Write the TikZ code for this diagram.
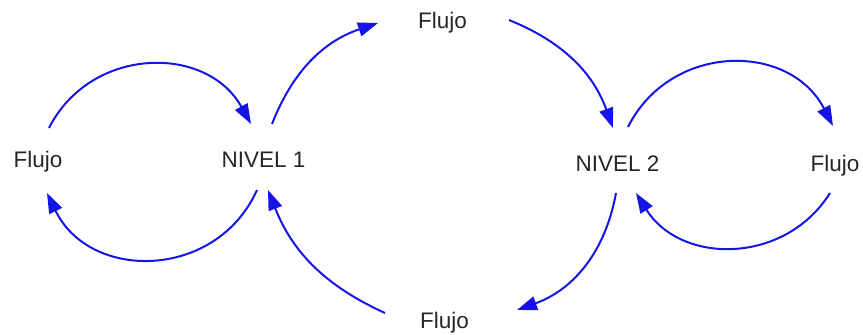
\documentclass[tikz,border=0pt]{standalone}
\usepackage{fontspec}
\setmainfont{Liberation Sans}
\usetikzlibrary{arrows.meta}
\definecolor{flowblue}{RGB}{20,20,230}

\begin{document}
\begin{tikzpicture}[x=1pt,y=1pt,
  varname/.style={anchor=base,inner sep=0pt,text=black!85,
    font=\fontsize{22.5}{27}\selectfont},
  flow/.style={draw=flowblue,line width=2pt,
    -{Triangle[length=20pt,width=14pt]}}]
  \useasboundingbox (0,0) rectangle (863,335);
  \node[varname] (f1) at (38,167) {Flujo};
  \node[varname] (n1) at (263.5,167) {NIVEL 1};
  \node[varname] (f2) at (442.5,306) {Flujo};
  \node[varname] (n2) at (617.5,163) {NIVEL 2};
  \node[varname] (f4) at (835,163) {Flujo};
  \node[varname] (f3) at (444.5,6) {Flujo};
  % outer loops
  \draw[flow] ([shift={(11,40)}]f1.base) to[bend left=62,looseness=1.16] ([shift={(-12.5,44)}]n1.base);
  \draw[flow] ([shift={(-6.5,-22)}]n1.base) to[bend left=65,looseness=1.2] ([shift={(9,-25)}]f1.base);
  \draw[flow] ([shift={(10.5,45)}]n2.base) to[bend left=63,looseness=1.18] ([shift={(-2,46)}]f4.base);
  \draw[flow] ([shift={(-5,-21)}]f4.base) to[bend left=58,looseness=1.12] ([shift={(18.5,-21)}]n2.base);
  % inner loop
  \draw[flow] ([shift={(8.5,44)}]n1.base) to[bend left=25] ([shift={(-64.5,6)}]f2.base);
  \draw[flow] ([shift={(66.5,9)}]f2.base) to[bend left=24] ([shift={(-4.5,44)}]n2.base);
  \draw[flow] ([shift={(-1.5,-21)}]n2.base) to[bend left=30] ([shift={(72.5,19)}]f3.base);
  \draw[flow] ([shift={(-59.5,16)}]f3.base) to[bend left=22] ([shift={(4.5,-22)}]n1.base);
\end{tikzpicture}
\end{document}
